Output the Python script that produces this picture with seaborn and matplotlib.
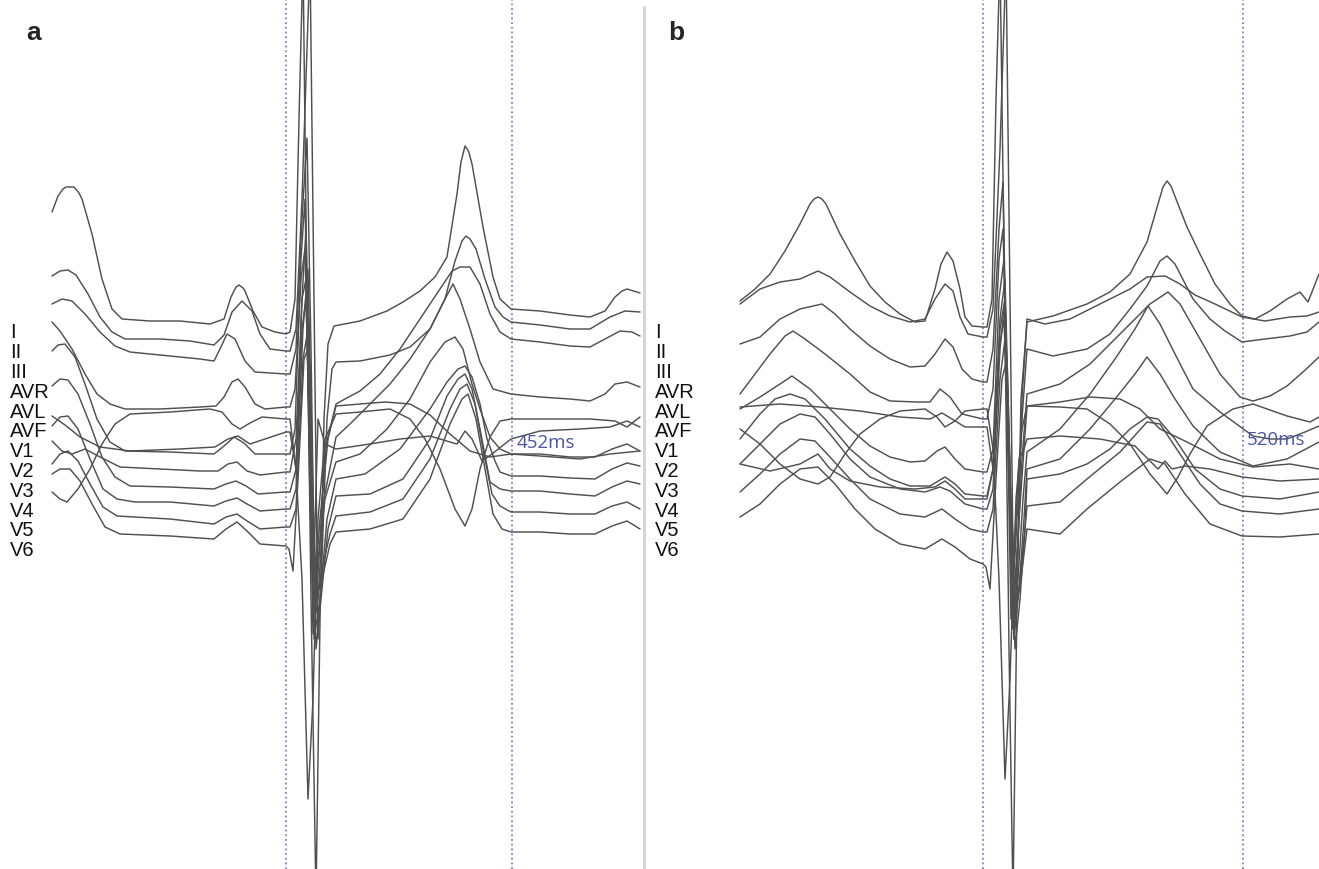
import matplotlib
matplotlib.use("Agg")
import matplotlib.pyplot as plt
from matplotlib.lines import Line2D
import pandas as pd
import seaborn as sns

# ---------------------------------------------------------------
# Superimposed 12-lead ECG beats.  Time in ms relative to QRS onset,
# amplitude in arbitrary display units (each lead keeps its own offset).
# ---------------------------------------------------------------
LEADS = ["I", "II", "III", "AVR", "AVL", "AVF", "V1", "V2", "V3", "V4", "V5", "V6"]
QT_A = 452   # ms, panel a
QT_B = 520   # ms, panel b

# ---------------- panel a ----------------
a_V3 = [(-468, 387), (-456, 403), (-446, 410), (-440, 412), (-424, 412), (-414, 406), (-408, 400),
        (-388, 365), (-368, 320), (-348, 290), (-328, 280), (-272, 278), (-212, 278), (-152, 275),
        (-124, 280), (-110, 302), (-100, 312), (-94, 314), (-86, 311), (-82, 308), (-66, 288),
        (-48, 272), (-22, 267), (0, 265),
        (8, 267), (18, 300), (26, 480), (34, 640), (42, 300), (50, 0), (60, -300), (68, -20),
        (76, 180), (84, 255), (96, 273),
        (148, 278), (202, 288), (234, 297), (268, 308), (298, 322), (322, 342), (342, 405),
        (350, 437), (358, 453), (365, 448), (372, 435), (394, 372), (414, 322), (428, 300),
        (450, 290), (508, 288), (568, 284), (608, 282), (638, 288), (658, 302), (672, 308),
        (682, 310), (708, 306)]
a_V4 = [(-468, 323), (-452, 328), (-436, 329), (-420, 324), (-396, 305), (-372, 282), (-348, 267),
        (-322, 260), (-252, 260), (-192, 258), (-144, 254), (-124, 264), (-108, 287), (-88, 298),
        (-68, 288), (-52, 265), (-32, 250), (0, 248),
        (8, 248), (20, 270), (32, 400), (48, 640), (56, 300), (64, -40), (72, 40), (82, 180),
        (92, 230), (100, 237),
        (148, 238), (208, 244), (248, 252), (288, 270), (318, 300), (338, 338), (352, 358),
        (360, 363), (368, 360), (380, 350), (398, 320), (418, 292), (434, 282), (450, 277),
        (508, 274), (568, 270), (608, 270), (648, 282), (678, 288), (708, 287)]
a_V2 = [(-468, 295), (-448, 300), (-428, 298), (-402, 285), (-372, 267), (-342, 253), (-312, 247),
        (-232, 243), (-172, 240), (-144, 238), (-132, 250), (-118, 265), (-102, 260), (-82, 238),
        (-62, 227), (0, 225),
        (8, 225), (20, 250), (32, 380), (42, 461), (50, 250), (58, -20), (66, 40), (78, 150),
        (100, 195),
        (118, 200), (148, 208), (188, 225), (228, 250), (268, 280), (308, 310), (332, 328),
        (348, 332), (368, 332), (388, 315), (408, 285), (428, 267), (450, 260), (508, 257),
        (568, 253), (608, 252), (638, 260), (668, 268), (692, 267), (708, 263)]
a_V5 = [(-468, 277), (-452, 268), (-428, 250), (-402, 225), (-378, 205), (-352, 195), (-322, 190),
        (-252, 190), (-172, 192), (-140, 193), (-124, 202), (-108, 217), (-96, 220), (-82, 212),
        (-62, 195), (-42, 190), (0, 192),
        (8, 192), (18, 210), (30, 320), (38, 350), (46, 180), (54, -35), (64, 0), (76, 100),
        (100, 162),
        (128, 175), (168, 195), (208, 215), (248, 240), (288, 270), (318, 300), (334, 315),
        (348, 300), (368, 270), (388, 237), (414, 210), (450, 205), (508, 202), (568, 200),
        (608, 198), (638, 205), (658, 215), (682, 217), (708, 212)]
a_AVL = [(-468, 183), (-442, 174), (-412, 162), (-372, 152), (-312, 148), (-212, 150), (-142, 152),
         (-116, 160), (-96, 163), (-72, 155), (-42, 160), (0, 167),
         (8, 167), (20, 130), (32, 270), (40, 300), (48, 150), (56, 0), (68, 80), (84, 160),
         (100, 193),
         (148, 195), (198, 197), (248, 195), (288, 184), (328, 165), (368, 148), (408, 142),
         (450, 145), (508, 143), (588, 140), (648, 145), (708, 148)]
a_AVR = [(-468, 107), (-452, 100), (-438, 97), (-416, 110), (-392, 130), (-368, 155), (-342, 175),
         (-312, 185), (-232, 187), (-152, 190), (-128, 187), (-108, 175), (-92, 170), (-72, 176),
         (-48, 182), (0, 180),
         (8, 180), (20, 130), (32, 20), (44, -200), (54, -100), (64, 80), (78, 160), (100, 185),
         (148, 187), (208, 190), (248, 180), (278, 160), (308, 130), (338, 90), (358, 73),
         (372, 90), (388, 130), (408, 162), (428, 178), (450, 180), (528, 180), (608, 180),
         (658, 178), (682, 172), (708, 182)]
a_V1 = [(-468, 158), (-448, 148), (-428, 145), (-402, 150), (-372, 142), (-332, 132), (-252, 130),
        (-172, 128), (-136, 128), (-116, 135), (-98, 137), (-78, 128), (-52, 124), (0, 127),
        (8, 127), (20, 160), (32, 300), (40, 320), (48, 100), (56, 40), (64, 180), (78, 155),
        (100, 150),
        (168, 155), (228, 160), (288, 163), (328, 157), (342, 155), (358, 168), (372, 160),
        (392, 138), (412, 145), (450, 160), (508, 168), (588, 170), (648, 172), (682, 178),
        (708, 172)]
a_II = [(-468, 248), (-456, 254), (-442, 255), (-422, 242), (-402, 215), (-378, 180), (-352, 157),
        (-322, 148), (-232, 147), (-144, 145), (-124, 153), (-104, 162), (-84, 156), (-62, 145),
        (0, 145),
        (8, 145), (18, 170), (30, 340), (38, 400), (46, 180), (54, 0), (64, 40), (78, 100),
        (100, 137),
        (148, 145), (202, 170), (248, 200), (288, 237), (318, 257), (338, 262), (354, 250),
        (372, 215), (388, 190), (408, 162), (428, 150), (450, 145), (508, 145), (568, 142),
        (618, 142), (652, 150), (682, 155), (708, 148)]
a_V6 = [(-468, 213), (-452, 220), (-436, 219), (-416, 205), (-392, 175), (-368, 142), (-342, 122),
        (-312, 113), (-232, 112), (-144, 110), (-120, 115), (-100, 118), (-80, 113), (-56, 105),
        (0, 107),
        (8, 107), (20, 130), (32, 300), (40, 370), (48, 200), (56, -40), (68, 0), (82, 80),
        (100, 120),
        (158, 125), (228, 150), (288, 190), (322, 217), (344, 230), (358, 233), (372, 222),
        (388, 195), (402, 160), (418, 138), (428, 127), (450, 123), (508, 123), (568, 121),
        (618, 120), (652, 130), (682, 136), (708, 133)]
a_I = [(-468, 173), (-452, 182), (-436, 183), (-416, 170), (-392, 140), (-366, 110), (-338, 100),
       (-302, 97), (-232, 97), (-144, 93), (-120, 98), (-98, 101), (-78, 95), (-52, 88), (0, 90),
       (8, 90), (20, 110), (34, 270), (44, 330), (52, 150), (60, -50), (70, 0), (84, 70),
       (100, 103),
       (168, 105), (234, 120), (288, 160), (322, 203), (344, 220), (358, 225), (372, 210),
       (388, 170), (408, 117), (428, 110), (450, 108), (508, 108), (568, 105), (618, 103),
       (652, 112), (682, 118), (708, 115)]
a_AVF = [(-468, 135), (-452, 145), (-436, 148), (-416, 138), (-392, 115), (-366, 92), (-338, 83),
         (-302, 82), (-232, 80), (-144, 75), (-120, 82), (-98, 85), (-78, 78), (-52, 70), (0, 72),
         (8, 72), (20, 90), (34, 240), (44, 270), (52, 120), (62, 0), (72, 30), (88, 65),
         (100, 83),
         (168, 87), (234, 100), (288, 140), (328, 190), (348, 210), (362, 215), (378, 195),
         (394, 150), (412, 105), (428, 93), (450, 87), (508, 87), (568, 85), (618, 85),
         (652, 93), (682, 97), (708, 90)]
a_III = [(-468, 125), (-452, 130), (-432, 130), (-412, 118), (-388, 95), (-362, 72), (-332, 65),
         (-232, 63), (-144, 60), (-120, 70), (-98, 77), (-78, 68), (-52, 55), (0, 53),
         (6, 50), (14, 28), (24, 120), (36, 240), (44, 250), (52, 80), (60, 0), (72, 20),
         (88, 55), (100, 67),
         (168, 70), (234, 80), (288, 120), (328, 175), (352, 200), (364, 205), (380, 180),
         (398, 130), (414, 85), (432, 70), (450, 67), (508, 67), (568, 65), (618, 65),
         (652, 73), (682, 78), (708, 70)]

# ---------------- panel b ----------------
b_V3 = [(-486, 298), (-456, 310), (-426, 325), (-396, 348), (-366, 375), (-346, 395), (-338, 400),
        (-330, 402), (-322, 400), (-314, 395), (-286, 365), (-256, 338), (-226, 313), (-196, 297),
        (-166, 285), (-136, 277), (-116, 278), (-96, 310), (-84, 335), (-72, 347), (-60, 338),
        (-46, 310), (-36, 282), (-22, 273), (0, 272),
        (8, 272), (18, 300), (26, 500), (34, 640), (42, 350), (52, -50), (60, -300), (68, 0),
        (76, 200), (88, 277),
        (140, 283), (208, 295), (254, 307), (294, 325), (328, 357), (350, 395), (360, 412),
        (368, 418), (376, 413), (386, 400), (408, 372), (434, 345), (464, 315), (494, 295),
        (518, 283), (544, 280), (574, 288), (608, 300), (634, 307), (650, 297), (672, 325)]
b_V4 = [(-486, 295), (-446, 310), (-406, 317), (-366, 320), (-330, 328), (-306, 322), (-266, 307),
        (-226, 293), (-186, 283), (-146, 277), (-116, 280), (-96, 300), (-76, 315), (-60, 308),
        (-46, 282), (-30, 265), (0, 262),
        (8, 262), (20, 290), (34, 450), (46, 640), (54, 300), (62, -40), (70, 50), (78, 200),
        (88, 280),
        (124, 275), (174, 280), (234, 295), (294, 310), (328, 322), (364, 323), (394, 315),
        (424, 304), (464, 295), (518, 282), (564, 278), (614, 282), (648, 283), (672, 287)]
b_V2 = [(-486, 255), (-446, 262), (-406, 280), (-366, 290), (-322, 295), (-296, 285), (-266, 270),
        (-226, 253), (-186, 240), (-146, 232), (-116, 233), (-96, 245), (-76, 260), (-60, 252),
        (-42, 230), (-22, 220), (0, 217),
        (8, 217), (20, 250), (32, 370), (40, 417), (48, 200), (56, -20), (66, 60), (78, 180),
        (88, 250),
        (140, 243), (208, 250), (254, 265), (294, 290), (328, 313), (354, 338), (368, 343),
        (384, 335), (420, 300), (454, 280), (484, 268), (518, 257), (564, 260), (614, 263),
        (648, 267), (672, 277)]
b_V5 = [(-486, 205), (-456, 225), (-426, 245), (-396, 263), (-380, 268), (-356, 260), (-316, 245),
        (-266, 225), (-226, 207), (-186, 198), (-132, 197), (-106, 197), (-86, 210), (-66, 202),
        (-42, 185), (0, 180),
        (8, 180), (20, 210), (32, 340), (40, 370), (50, 180), (58, -30), (68, 40), (78, 140),
        (88, 205),
        (154, 215), (214, 235), (274, 265), (334, 295), (370, 307), (394, 295), (434, 260),
        (474, 225), (514, 202), (540, 198), (574, 203), (608, 213), (640, 227), (672, 242)]
b_II = [(-486, 190), (-446, 202), (-406, 215), (-382, 223), (-346, 210), (-306, 190), (-266, 170),
        (-226, 153), (-186, 142), (-146, 137), (-116, 138), (-92, 148), (-76, 152), (-56, 140),
        (-36, 130), (0, 127),
        (8, 127), (20, 150), (32, 300), (42, 340), (52, 150), (60, -30), (70, 20), (80, 100),
        (88, 147),
        (154, 170), (214, 205), (264, 240), (304, 270), (330, 293), (354, 275), (384, 245),
        (420, 210), (474, 187), (540, 163), (574, 160), (608, 160), (644, 167), (672, 173)]
b_V6 = [(-486, 160), (-446, 185), (-416, 200), (-386, 205), (-356, 200), (-316, 180), (-266, 150),
        (-226, 133), (-186, 120), (-146, 113), (-106, 113), (-76, 122), (-56, 115), (-36, 105),
        (0, 103),
        (8, 103), (20, 130), (34, 280), (44, 320), (54, 130), (62, -40), (72, 10), (82, 80),
        (88, 130),
        (154, 140), (214, 170), (264, 200), (304, 225), (328, 242), (354, 225), (384, 200),
        (420, 173), (474, 147), (540, 133), (608, 140), (672, 157)]
b_AVR = [(-486, 170), (-446, 155), (-406, 135), (-366, 120), (-330, 115), (-306, 122), (-276, 145),
         (-246, 165), (-206, 180), (-166, 188), (-116, 190), (-92, 182), (-76, 172), (-56, 178),
         (-36, 188), (0, 190),
         (8, 190), (20, 150), (32, 20), (44, -180), (54, -80), (66, 100), (78, 170), (88, 193),
         (154, 192), (208, 190), (254, 175), (294, 155), (334, 125), (368, 105), (390, 122),
         (414, 145), (448, 173), (500, 190), (540, 195), (608, 183), (654, 177), (672, 182)]
b_AVL = [(-486, 192), (-406, 195), (-326, 192), (-246, 188), (-166, 182), (-106, 180), (-82, 186),
         (-62, 180), (-36, 172), (0, 172),
         (8, 172), (20, 130), (32, 250), (42, 280), (52, 130), (62, 0), (72, 80), (82, 150),
         (88, 193),
         (154, 197), (214, 202), (274, 200), (314, 190), (354, 170), (408, 157), (474, 140),
         (540, 132), (614, 135), (672, 130)]
b_V1 = [(-486, 135), (-426, 128), (-366, 135), (-330, 145), (-306, 130), (-266, 118), (-206, 112),
        (-136, 110), (-96, 112), (-76, 118), (-56, 110), (-36, 100), (0, 100),
        (8, 100), (20, 130), (34, 270), (44, 300), (54, 120), (62, 40), (72, 140), (82, 150),
        (88, 160),
        (154, 163), (234, 160), (304, 153), (334, 138), (350, 130), (364, 138), (378, 130),
        (404, 133), (454, 130), (518, 122), (594, 118), (672, 120)]
b_I = [(-486, 135), (-446, 155), (-406, 175), (-366, 185), (-336, 182), (-306, 165), (-266, 140),
       (-226, 122), (-166, 110), (-116, 107), (-86, 112), (-66, 108), (-36, 95), (0, 90),
       (8, 90), (20, 110), (34, 250), (44, 300), (54, 100), (64, -50), (74, 0), (84, 70),
       (88, 120),
       (154, 125), (208, 135), (254, 150), (294, 170), (328, 182), (350, 180), (384, 160),
       (424, 130), (474, 110), (518, 103), (594, 100), (672, 107)]
b_AVF = [(-486, 107), (-446, 125), (-406, 145), (-366, 160), (-336, 158), (-306, 142), (-266, 120),
         (-226, 100), (-166, 85), (-116, 82), (-82, 90), (-56, 80), (-26, 70), (0, 67),
         (8, 67), (20, 90), (34, 220), (44, 260), (54, 80), (64, -20), (74, 20), (84, 70),
         (88, 93),
         (154, 97), (208, 120), (274, 147), (328, 177), (354, 175), (394, 145), (434, 115),
         (474, 95), (518, 88), (594, 85), (672, 90)]
b_III = [(-486, 82), (-446, 95), (-406, 115), (-366, 130), (-330, 132), (-296, 115), (-256, 90),
         (-216, 70), (-166, 55), (-116, 50), (-82, 60), (-56, 52), (-26, 40), (0, 35),
         (6, 32), (14, 10), (26, 120), (38, 220), (48, 240), (58, 60), (66, -10), (76, 20),
         (88, 70),
         (154, 65), (208, 90), (274, 117), (334, 140), (364, 135), (404, 105), (454, 75),
         (518, 63), (594, 62), (672, 65)]

PANEL_A = {"I": a_I, "II": a_II, "III": a_III, "AVR": a_AVR, "AVL": a_AVL, "AVF": a_AVF,
           "V1": a_V1, "V2": a_V2, "V3": a_V3, "V4": a_V4, "V5": a_V5, "V6": a_V6}
PANEL_B = {"I": b_I, "II": b_II, "III": b_III, "AVR": b_AVR, "AVL": b_AVL, "AVF": b_AVF,
           "V1": b_V1, "V2": b_V2, "V3": b_V3, "V4": b_V4, "V5": b_V5, "V6": b_V6}


def to_frame(panel):
    rows = []
    for lead, pts in panel.items():
        for order, (t, v) in enumerate(pts):
            rows.append({"lead": lead, "order": order, "t": t, "v": v})
    return pd.DataFrame(rows)


# ---------------- figure ----------------
W, H = 1319, 870
fig = plt.figure(figsize=(W / 100, H / 100), dpi=100)
sns.set_style("white")
plt.rcParams["font.family"] = ["Liberation Sans", "DejaVu Sans"]

TRACE = "#505050"
GUIDE = "#7f7fcc"
NOTE = "#4b55a8"

split = 644  # px where the two panels meet
ax_a = fig.add_axes([0, 0, split / W, 1])
ax_b = fig.add_axes([split / W, 0, (W - split) / W, 1])

# 2 ms per px, QRS onset at px 286 (a) / 983 (b)
ax_a.set_xlim((0 - 286) * 2, (split - 286) * 2)
ax_b.set_xlim((split - 983) * 2, (W - 983) * 2)
for ax in (ax_a, ax_b):
    ax.set_ylim(600 - H, 600)
    ax.set_axis_off()

for ax, panel, qt in ((ax_a, PANEL_A, QT_A), (ax_b, PANEL_B, QT_B)):
    df = to_frame(panel)
    sns.lineplot(data=df, x="t", y="v", units="lead", estimator=None, sort=False,
                 color=TRACE, lw=1.05, ax=ax, legend=False)
    for x in (0, qt):
        ax.axvline(x, color=GUIDE, lw=1.3, ls=(0, (1, 1.6)), zorder=0)

ax_a.text(462, 152, f"{QT_A}ms", color=NOTE, fontsize=13.5, family="Open Sans",
          ha="left", va="baseline")
ax_b.text(528, 155, f"{QT_B}ms", color=NOTE, fontsize=13.5, family="Open Sans",
          ha="left", va="baseline")

# panel separator
fig.add_artist(Line2D([split / W, split / W], [0, 1 - 8 / H], color="#d6d6d6", lw=2.2))

# lead name columns
for x0 in (10, 655):
    for i, name in enumerate(LEADS):
        y = 333 + 19.8 * i
        fig.text(x0 / W, 1 - y / H, name, fontsize=14.5, color="#111111",
                 ha="left", va="center")

# panel letters
fig.text(26 / W, 1 - 40 / H, "a", fontsize=19, fontweight="bold", ha="left", va="baseline")
fig.text(668 / W, 1 - 40 / H, "b", fontsize=19, fontweight="bold", ha="left", va="baseline")

fig.savefig("out.png", dpi=100, facecolor="white")
